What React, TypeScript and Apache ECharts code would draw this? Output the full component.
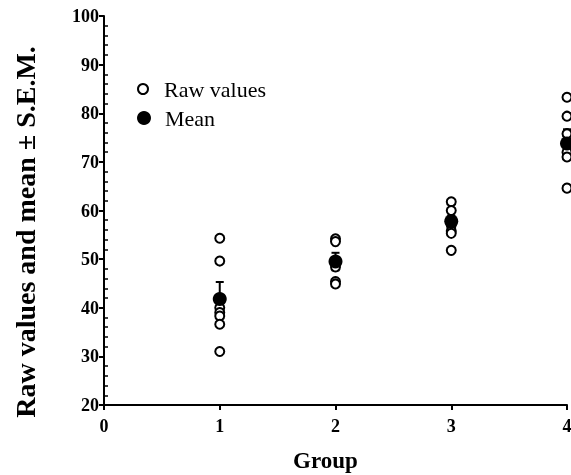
import React, { useEffect, useRef } from "react";
import * as echarts from "echarts";

const groups = [1, 2, 3, 4];
const rawG1 = [54.3, 49.6, 40.0, 39.0, 38.3, 36.6, 31.0];
const rawG2 = [54.2, 53.6, 48.4, 45.4, 44.9];
const rawG3 = [61.8, 60.0, 58.0, 57.0, 55.8, 55.3, 51.8];
const rawG4 = [83.3, 79.4, 75.8, 72.0, 71.0, 64.6];
const means = [41.8, 49.5, 57.8, 73.8];
const sems = [3.5, 1.8, 1.2, 2.9];
const xTicks = [0, 1, 2, 3, 4];
const yTicks = [20, 30, 40, 50, 60, 70, 80, 90, 100];

const FONT = "'Liberation Serif', 'Times New Roman', serif";

export default function App() {
  const ref = useRef<HTMLDivElement>(null);
  useEffect(() => {
    if (!ref.current) return;
    const chart = echarts.init(ref.current, null, { renderer: "svg" });
    const rawAll = [rawG1, rawG2, rawG3, rawG4];
    const rawData: number[][] = [];
    rawAll.forEach((arr, i) => arr.forEach((v) => rawData.push([groups[i], v])));
    const meanData = groups.map((g, i) => [g, means[i]]);
    const errData = groups.map((g, i) => [g, means[i] - sems[i], means[i] + sems[i]]);
    const legendText = { fontFamily: FONT, fontSize: 22, color: "#000", lineHeight: 22 };

    chart.setOption({
      animation: false,
      grid: { left: 104, right: 4, top: 16, bottom: 70, outerBoundsMode: "none", containLabel: false },
      legend: [
        {
          orient: "vertical",
          left: 132,
          top: 73,
          itemWidth: 32,
          itemHeight: 10,
          textStyle: legendText,
          data: [
            { name: "Raw values", icon: "circle", itemStyle: { color: "#fff", borderColor: "#000", borderWidth: 2 } },
          ],
        },
        {
          orient: "vertical",
          left: 132,
          top: 102,
          itemWidth: 32,
          itemHeight: 14,
          textStyle: legendText,
          data: [{ name: "Mean", icon: "circle", itemStyle: { color: "#000" } }],
        },
      ],
      xAxis: {
        type: "value",
        min: xTicks[0],
        max: xTicks[xTicks.length - 1],
        interval: 1,
        z: 50,
        splitLine: { show: false },
        axisLine: { show: true, onZero: false, lineStyle: { color: "#000", width: 2 } },
        axisTick: { show: true, length: 5, lineStyle: { color: "#000", width: 2 } },
        axisLabel: { fontFamily: FONT, fontWeight: "bold", fontSize: 18, color: "#000", margin: 12 },
        name: "Group",
        nameLocation: "middle",
        nameGap: 44,
        nameTextStyle: { fontFamily: FONT, fontWeight: "bold", fontSize: 23, color: "#000", padding: [0, 20, 0, 0] },
      },
      yAxis: [
        {
          type: "value",
          position: "left",
          min: yTicks[0],
          max: yTicks[yTicks.length - 1],
          interval: 10,
          z: 50,
          splitLine: { show: false },
          axisLine: { show: true, onZero: false, lineStyle: { color: "#000", width: 2 } },
          axisTick: { show: true, length: 5, lineStyle: { color: "#000", width: 2 } },
          axisLabel: { fontFamily: FONT, fontWeight: "bold", fontSize: 18, color: "#000", margin: 5 },
        },
        {
          type: "value",
          position: "left",
          min: yTicks[0],
          max: yTicks[yTicks.length - 1],
          interval: 10,
          z: 50,
          splitLine: { show: false },
          axisLine: { show: false, onZero: false },
          axisTick: { show: false, inside: true },
          minorTick: { show: true, splitNumber: 5, length: 4, lineStyle: { color: "#000", width: 1.5 } },
          axisLabel: { show: false },
        },
      ],
      series: [
        {
          name: "SEM",
          type: "custom",
          z: 1,
          data: errData,
          renderItem: (params: any, api: any) => {
            const x = api.value(0);
            const lo = api.coord([x, api.value(1)]);
            const hi = api.coord([x, api.value(2)]);
            const cap = 4;
            const style = { stroke: "#000", lineWidth: 2 };
            return {
              type: "group",
              children: [
                { type: "line", shape: { x1: lo[0], y1: lo[1], x2: hi[0], y2: hi[1] }, style },
                { type: "line", shape: { x1: hi[0] - cap, y1: hi[1], x2: hi[0] + cap, y2: hi[1] }, style },
                { type: "line", shape: { x1: lo[0] - cap, y1: lo[1], x2: lo[0] + cap, y2: lo[1] }, style },
              ],
            };
          },
        },
        {
          name: "Raw values",
          type: "scatter",
          z: 2,
          symbol: "circle",
          symbolSize: 9,
          itemStyle: { color: "#fff", borderColor: "#000", borderWidth: 2, opacity: 1 },
          data: rawData,
        },
        {
          name: "Mean",
          type: "scatter",
          z: 3,
          symbol: "circle",
          symbolSize: 14,
          itemStyle: { color: "#000", opacity: 1 },
          data: meanData,
        },
      ],
      graphic: [
        {
          type: "text",
          x: 25,
          y: 232,
          rotation: Math.PI / 2,
          style: {
            text: "Raw values and mean \u00b1 S.E.M.",
            fontFamily: FONT,
            fontWeight: "bold",
            fontSize: 28,
            fill: "#000",
            align: "center",
            verticalAlign: "middle",
          },
        },
      ],
    });
    return () => chart.dispose();
  }, []);
  return (
    <div
      ref={ref}
      style={{ position: "fixed", left: 0, top: 0, width: 571, height: 475 }}
    />
  );
}
